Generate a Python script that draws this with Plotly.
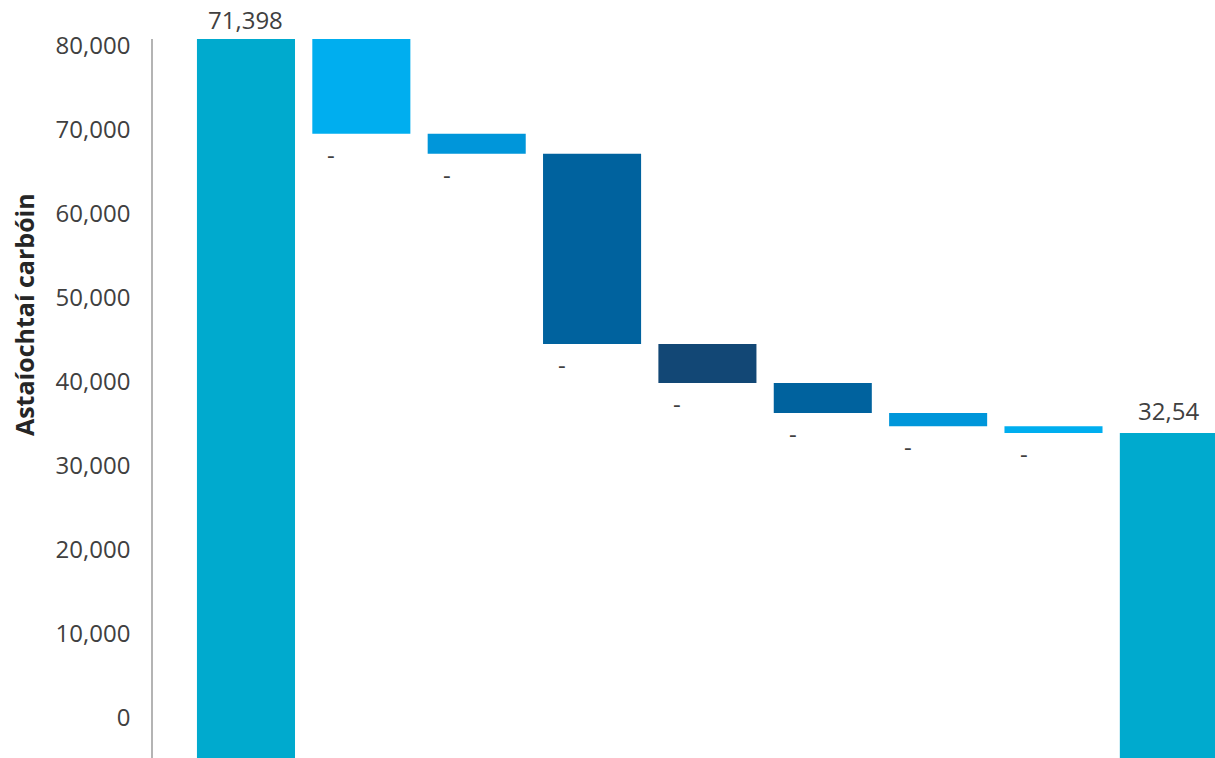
import plotly.graph_objects as go

# waterfall steps (category names are not visible in the picture)
steps = ["Bonnlíne", "Céim 1", "Céim 2", "Céim 3", "Céim 4", "Céim 5", "Céim 6", "Céim 7", "Iomlán"]
start_value = 71398
reductions = [9340, 1970, 18760, 3850, 2960, 1300, 673]
bar_colors = ["#00AACE", "#00AEEF", "#0096DA", "#00629E", "#124775",
              "#00629E", "#0096DA", "#00AEEF", "#00AACE"]
y_ticks = [0, 10000, 20000, 30000, 40000, 50000, 60000, 70000, 80000]

# build bases / heights for the floating bars
final_value = start_value - sum(reductions)
bases = [0]
heights = [start_value]
level = start_value
for r in reductions:
    level -= r
    bases.append(level)
    heights.append(r)
bases.append(0)
heights.append(final_value)

x_pos = list(range(len(steps)))
text_color = "#404040"
font_family = "Open Sans, Noto Sans, sans-serif"

fig = go.Figure()
fig.add_trace(go.Bar(
    x=x_pos, y=heights, base=bases,
    width=0.85,
    marker=dict(color=bar_colors, line=dict(width=0)),
    hoverinfo="skip",
    showlegend=False,
))
# empty trace so the label axis gets drawn
fig.add_trace(go.Scatter(x=[], y=[], yaxis="y2", showlegend=False, hoverinfo="skip"))

annotations = []
# value labels on the start and end bars
annotations.append(dict(x=x_pos[0], y=start_value, xref="x", yref="y",
                        text=f"{start_value:,}", showarrow=False, yanchor="bottom", yshift=1))
annotations.append(dict(x=x_pos[-1], y=final_value, xref="x", yref="y",
                        text=f"{final_value:,}"[:-1], showarrow=False, yanchor="bottom", yshift=4))
# truncated labels under each reduction
for i in range(1, len(steps) - 1):
    annotations.append(dict(x=x_pos[i], y=bases[i], xref="x", yref="y", text="-",
                            showarrow=False, yanchor="top", yshift=-2, xshift=-30))
# axis title
annotations.append(dict(x=0, y=0.616, xref="paper", yref="paper", xshift=-129,
                        xanchor="center", yanchor="middle",
                        text="<b>Astaíochtaí carbóin</b>", textangle=-90, showarrow=False,
                        font=dict(size=25, color="#262626")))

fig.update_layout(
    width=1215, height=758,
    margin=dict(l=153, r=0, t=39, b=0),
    paper_bgcolor="white", plot_bgcolor="white",
    font=dict(family=font_family, size=24, color=text_color),
    bargap=0.15,
    annotations=annotations,
    xaxis=dict(range=[-0.806, 8.4], showticklabels=False, showgrid=False,
               zeroline=False, showline=False),
    yaxis=dict(range=[500, 71400], showticklabels=False, showgrid=False,
               zeroline=False, showline=False),
    yaxis2=dict(range=[-4762, 80833], overlaying="y", side="left",
                tickvals=y_ticks, tickformat=",", showgrid=False, zeroline=False,
                showline=True, linecolor="#B4B4B4", linewidth=1.5,
                ticks="", ticklabelstandoff=16,
                tickfont=dict(size=24, color=text_color)),
)

# drop the default page margin so the chart sits at the window corner
fig.write_html("out.html", config={"displayModeBar": False},
               post_script="document.body.style.margin='0px';")
